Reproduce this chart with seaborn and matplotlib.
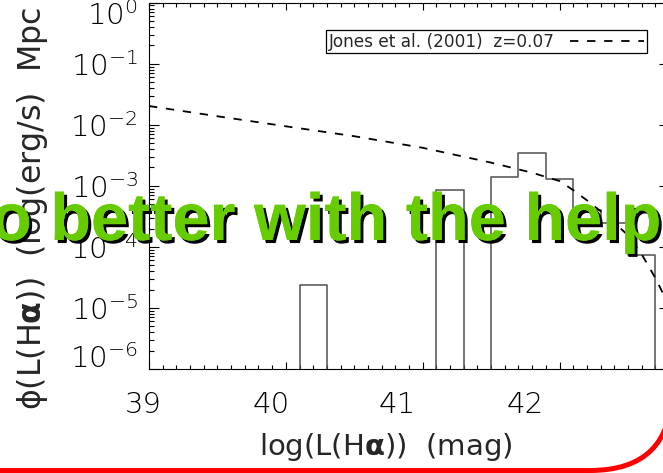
import numpy as np
import pandas as pd
import matplotlib
matplotlib.use("Agg")
import matplotlib.pyplot as plt
import seaborn as sns
from matplotlib.patches import FancyBboxPatch
from matplotlib.transforms import ScaledTranslation, IdentityTransform
from matplotlib import patheffects as pe
from matplotlib.ticker import LogLocator, MultipleLocator, NullFormatter

# H-alpha luminosity function: histogram of the sample (0.2 dex bins)
hist_logL = [40.2, 41.2, 41.6, 41.8, 42.0, 42.2, 42.4, 42.6]
hist_phi = [2.4e-5, 8.6e-4, 1.4e-3, 3.5e-3, 1.3e-3, 4.0e-4, 2.5e-4, 7.3e-5]

# Jones et al. (2001) luminosity function at z=0.07
jones_logL = [39.0, 39.5, 40.0, 40.5, 41.0, 41.5, 41.8, 42.0, 42.1, 42.2,
              42.3, 42.4, 42.5, 42.6, 42.7, 42.8]
jones_phi = [2.03e-2, 1.38e-2, 9.45e-3, 6.5e-3, 4.2e-3, 2.4e-3, 1.64e-3,
             1.2e-3, 8.5e-4, 5.8e-4, 3.85e-4, 2.5e-4, 1.55e-4, 7.6e-5,
             3.1e-5, 1.1e-5]

x_ticks = [39, 40, 41, 42]
y_ticks = [1e-6, 1e-5, 1e-4, 1e-3, 1e-2, 1e-1, 1e0]

sns.set_style("ticks")
plt.rcParams["font.family"] = ["DejaVu Sans"]
plt.rcParams["font.weight"] = 200          # DejaVu Sans ExtraLight: thin strokes
plt.rcParams["mathtext.fontset"] = "dejavusans"
plt.rcParams["lines.scale_dashes"] = False

W, H, DPI = 663, 473, 100
fig = plt.figure(figsize=(W / DPI, H / DPI), dpi=DPI)
fig.patch.set_facecolor("white")

# axes box in pixels (from top-left)
ax_l, ax_r, ax_t, ax_b = 149, 669, 2.7, 369
ax = fig.add_axes([ax_l / W, (H - ax_b) / H, (ax_r - ax_l) / W, (ax_b - ax_t) / H])

hist_df = pd.DataFrame({"logL": hist_logL, "phi": hist_phi})
sns.histplot(data=hist_df, x="logL", weights="phi", binwidth=0.2,
             binrange=(39.1, 42.9), element="step", fill=False,
             color="#505050", linewidth=1.1, ax=ax)

jones_df = pd.DataFrame({"logL": jones_logL, "phi": jones_phi})
sns.lineplot(data=jones_df, x="logL", y="phi", color="black",
             linewidth=1.3, linestyle=(0, (6, 6.3)),
             label="Jones et al. (2001)  z=0.07", ax=ax)

ax.set_yscale("log")
ax.set_xlim(39, 42.8)
ax.set_ylim(1e-6, 1e0)

ax.set_xticks(x_ticks)
ax.xaxis.set_minor_locator(MultipleLocator(0.1))
ax.set_yticks(y_ticks)
ax.yaxis.set_minor_locator(LogLocator(base=10, subs=np.arange(2, 10), numticks=100))
ax.yaxis.set_minor_formatter(NullFormatter())

ax.tick_params(axis="both", which="both", direction="in", top=True, right=True,
               colors="black", width=0.8, labelsize=21)
ax.tick_params(axis="x", which="major", length=5.3, pad=16)
ax.tick_params(axis="x", which="minor", length=2.7)
ax.tick_params(axis="y", which="major", length=7.5, pad=8)
ax.tick_params(axis="y", which="minor", length=3.7)
for s in ax.spines.values():
    s.set_color("black")
    s.set_linewidth(0.8)

# label shifts (pixels)
x_shift = [-6, -15, -26, -34]
for lab, dx in zip(ax.get_xticklabels(), x_shift):
    lab.set_transform(lab.get_transform() + ScaledTranslation(dx / DPI, 0, fig.dpi_scale_trans))
y_shift = [13, 0, 0, 0, 0, 0, -10]
for lab, dy in zip(ax.get_yticklabels(), y_shift):
    lab.set_transform(lab.get_transform() + ScaledTranslation(0, dy / DPI, fig.dpi_scale_trans))

def px_to_axes(px, py):
    return (px - ax_l) / (ax_r - ax_l), (ax_b - py) / (ax_b - ax_t)

ax.set_xlabel(r"log(L(H$\mathbf{\alpha}$))  (mag)", fontsize=21)
ax.xaxis.label.set_va("center")
ax.xaxis.set_label_coords(*px_to_axes(386, 447))

ax.set_ylabel("\u03d5(L(H" + r"$\mathbf{\alpha}$" + "))  (log(erg/s)  Mpc", fontsize=22.8)
ax.yaxis.label.set_ha("left")
ax.yaxis.label.set_va("center")
ax.yaxis.set_label_coords(*px_to_axes(32, 410))

leg = ax.legend(loc="upper right", bbox_to_anchor=(647 / W, 1 - 30 / H),
                bbox_transform=fig.transFigure, borderaxespad=0,
                markerfirst=False, fancybox=False, framealpha=1,
                edgecolor="black", handlelength=4.4,
                borderpad=0.15, handletextpad=0.9,
                prop={"family": "DejaVu Sans", "weight": "normal", "size": 12.2})
leg.get_frame().set_linewidth(0.9)

# banner text across the plot
fig.text(-9 / W, (H - 240) / H, "o better with the help", fontsize=48,
         family="Liberation Sans", weight="bold", color="#66cc00",
         ha="left", va="baseline", zorder=10,
         path_effects=[pe.withSimplePatchShadow(offset=(2.2, -2.2),
                                                shadow_rgbFace="black", alpha=1),
                       pe.Normal()])

# rounded red frame at the bottom
frame = FancyBboxPatch((-400, 2.5), 672 + 400, 900,
                       boxstyle="round,pad=0,rounding_size=82",
                       transform=IdentityTransform(), facecolor="none",
                       edgecolor="#ff0000", linewidth=3.6, zorder=20)
fig.add_artist(frame)

fig.savefig("out.png", dpi=DPI)
